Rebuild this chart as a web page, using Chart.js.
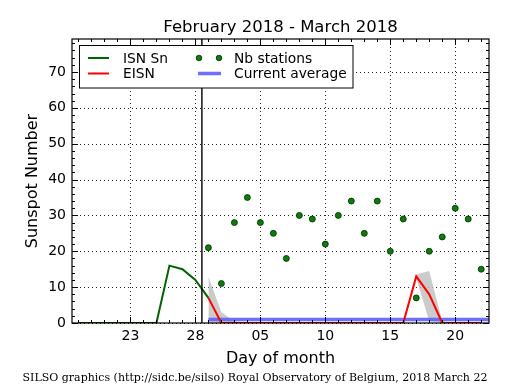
<!DOCTYPE html>
<html>
<head>
<meta charset="utf-8">
<script src="https://cdn.jsdelivr.net/npm/chart.js@4.4.1/dist/chart.umd.min.js"></script>
<style>
  html, body { margin: 0; padding: 0; background: #fff; }
  #chart { display: block; }
</style>
</head>
<body>
<canvas id="chart" width="515" height="390"></canvas>
<script>
// day index: Feb d -> d, Mar d -> 28 + d
const dayTicks = [23, 28, 33, 38, 43, 48];
const dayLabels = ['23', '28', '05', '10', '15', '20'];
const yTicks = [0, 10, 20, 30, 40, 50, 60, 70];

const isnDays = [19, 20, 21, 22, 23, 24, 25, 26, 27, 28, 29];
const isnValues = [0, 0, 0, 0, 0, 0, 0, 16, 15, 12, 7];

// March 1 .. March 22
const marDays = [29, 30, 31, 32, 33, 34, 35, 36, 37, 38, 39, 40, 41, 42, 43, 44, 45, 46, 47, 48, 49, 50];
const eisnValues = [7, 0, 0, 0, 0, 0, 0, 0, 0, 0, 0, 0, 0, 0, 0, 0, 13, 8, 0, 0, 0, 0];
const eisnUpper = [13, 3, 0.5, 0, 0, 0, 0, 0, 0, 0, 0, 0, 0, 0, 0, 0, 13.5, 14.5, 0.5, 0, 0, 0];
const eisnLower = [0, 0, 0, 0, 0, 0, 0, 0, 0, 0, 0, 0, 0, 0, 0, 0, 12.5, 0.5, 0, 0, 0, 0];
const stationValues = [21, 11, 28, 35, 28, 25, 18, 30, 29, 22, 30, 34, 25, 34, 20, 29, 7, 20, 24, 32, 29, 15];

const averageDays = [29, 51];
const averageValues = [1, 1];

const dividerDay = 28.5;
const xMin = 18.5, xMax = 50.6;
const yMin = 0, yMax = 79.2;

const toPoints = (xs, ys) => xs.map((x, i) => ({ x: x, y: ys[i] }));

const SANS = '"DejaVu Sans", sans-serif';
const SERIF = '"DejaVu Serif", serif';

const GREEN = '#006400';
const RED = '#ff0000';
const BLUE = 'rgba(95,95,255,0.9)';
const DOT = '#0b7d0b';

// grid, frame, inside ticks, legend and texts
const decorations = {
    id: 'decorations',
    beforeDatasetsDraw(chart) {
        const { ctx, chartArea: a, scales: { x, y } } = chart;
        ctx.save();
        ctx.strokeStyle = 'rgba(0,0,0,0.85)';
        ctx.lineWidth = 1;
        ctx.setLineDash([1, 3]);
        dayTicks.forEach(d => {
            const px = Math.round(x.getPixelForValue(d)) + 0.5;
            ctx.beginPath(); ctx.moveTo(px, a.top); ctx.lineTo(px, a.bottom); ctx.stroke();
        });
        yTicks.forEach(v => {
            const py = Math.round(y.getPixelForValue(v)) + 0.5;
            ctx.beginPath(); ctx.moveTo(a.left, py); ctx.lineTo(a.right, py); ctx.stroke();
        });
        ctx.restore();
    },
    afterDatasetsDraw(chart) {
        const { ctx, chartArea: a, scales: { x, y } } = chart;
        ctx.save();
        ctx.strokeStyle = '#000';
        ctx.lineWidth = 1;
        ctx.setLineDash([]);
        // minor + major ticks, inside, on all four sides
        for (let d = Math.ceil(xMin); d <= xMax; d++) {
            const px = Math.round(x.getPixelForValue(d)) + 0.5;
            const len = dayTicks.includes(d) ? 6 : 3;
            ctx.beginPath();
            ctx.moveTo(px, a.bottom); ctx.lineTo(px, a.bottom - len);
            ctx.moveTo(px, a.top); ctx.lineTo(px, a.top + len);
            ctx.stroke();
        }
        for (let v = 0; v <= yMax; v += 2) {
            const py = Math.round(y.getPixelForValue(v)) + 0.5;
            const len = v % 10 === 0 ? 6 : 3;
            ctx.beginPath();
            ctx.moveTo(a.left, py); ctx.lineTo(a.left + len, py);
            ctx.moveTo(a.right, py); ctx.lineTo(a.right - len, py);
            ctx.stroke();
        }
        ctx.lineWidth = 1.2;
        ctx.strokeRect(a.left, a.top, a.right - a.left, a.bottom - a.top);

        // legend
        const lx = 79.5, ly = 45.5, lw = 273.5, lh = 42.5;
        ctx.fillStyle = '#fff';
        ctx.fillRect(lx, ly, lw, lh);
        ctx.lineWidth = 1;
        ctx.strokeRect(lx, ly, lw, lh);
        ctx.font = '13.8px ' + SANS;
        ctx.textBaseline = 'middle';
        ctx.textAlign = 'left';
        const r1 = 58, r2 = 73.5;
        ctx.lineWidth = 2;
        ctx.strokeStyle = GREEN;
        ctx.beginPath(); ctx.moveTo(88, r1); ctx.lineTo(109, r1); ctx.stroke();
        ctx.strokeStyle = RED;
        ctx.beginPath(); ctx.moveTo(88, r2); ctx.lineTo(109, r2); ctx.stroke();
        ctx.strokeStyle = BLUE;
        ctx.lineWidth = 3.5;
        ctx.beginPath(); ctx.moveTo(198, r2); ctx.lineTo(221, r2); ctx.stroke();
        ctx.lineWidth = 0.8;
        ctx.strokeStyle = '#002a00';
        ctx.fillStyle = DOT;
        [199, 219].forEach(cx => {
            ctx.beginPath(); ctx.arc(cx, r1, 2.8, 0, Math.PI * 2); ctx.fill(); ctx.stroke();
        });
        ctx.fillStyle = '#000';
        ctx.fillText('ISN Sn', 123, r1 + 1);
        ctx.fillText('EISN', 123, r2 + 1);
        ctx.fillText('Nb stations', 234, r1 + 1);
        ctx.fillText('Current average', 234, r2 + 1);
        ctx.restore();
    },
    afterDraw(chart) {
        const { ctx, chartArea: a } = chart;
        const cx = (a.left + a.right) / 2;
        ctx.save();
        ctx.fillStyle = '#000';
        ctx.textAlign = 'center';
        ctx.textBaseline = 'alphabetic';
        ctx.font = '16.5px ' + SANS;
        ctx.fillText('February 2018 - March 2018', cx, 32);
        ctx.font = '16px ' + SANS;
        ctx.fillText('Day of month', cx, 363);
        ctx.save();
        ctx.translate(37, (a.top + a.bottom) / 2);
        ctx.rotate(-Math.PI / 2);
        ctx.fillText('Sunspot Number', 0, 0);
        ctx.restore();
        ctx.font = '11px ' + SERIF;
        ctx.fillText('SILSO graphics (http://sidc.be/silso) Royal Observatory of Belgium, 2018 March 22', 255, 381);
        ctx.restore();
    }
};

new Chart(document.getElementById('chart').getContext('2d'), {
    type: 'line',
    data: {
        datasets: [
            {   // band lower edge
                data: toPoints(marDays, eisnLower),
                borderWidth: 0, pointRadius: 0, fill: false, order: 6
            },
            {   // band upper edge
                data: toPoints(marDays, eisnUpper),
                borderWidth: 0, pointRadius: 0,
                fill: '-1', backgroundColor: 'rgba(190,190,190,0.8)', order: 5
            },
            {
                label: 'Current average',
                data: toPoints(averageDays, averageValues),
                borderColor: BLUE, borderWidth: 3.5, pointRadius: 0, order: 4
            },
            {
                label: 'ISN Sn',
                data: toPoints(isnDays, isnValues),
                borderColor: GREEN, borderWidth: 2, pointRadius: 0, order: 3
            },
            {
                label: 'EISN',
                data: toPoints(marDays, eisnValues),
                borderColor: RED, borderWidth: 2, pointRadius: 0, order: 2
            },
            {
                data: [{ x: dividerDay, y: yMin }, { x: dividerDay, y: yMax }],
                borderColor: '#000', borderWidth: 1.4, pointRadius: 0, order: 1
            },
            {
                label: 'Nb stations',
                data: toPoints(marDays, stationValues),
                showLine: false,
                pointRadius: 3, pointBorderWidth: 0.8,
                pointBackgroundColor: DOT, pointBorderColor: '#002a00', order: 0
            }
        ]
    },
    options: {
        responsive: false,
        animation: false,
        layout: { padding: { left: 0, right: 26, top: 39, bottom: 0 } },
        elements: { line: { tension: 0 } },
        plugins: {
            legend: { display: false },
            title: { display: false },
            tooltip: { enabled: false }
        },
        scales: {
            x: {
                type: 'linear',
                min: xMin, max: xMax,
                grid: { display: false, drawTicks: false },
                border: { display: false },
                afterBuildTicks: (scale) => { scale.ticks = dayTicks.map(v => ({ value: v })); },
                afterFit: (scale) => { scale.height = 67; },
                ticks: {
                    padding: 5, color: '#000', maxRotation: 0, autoSkip: false,
                    font: { family: SANS, size: 14 },
                    callback: (v) => dayLabels[dayTicks.indexOf(v)]
                }
            },
            y: {
                min: yMin, max: yMax,
                grid: { display: false, drawTicks: false },
                border: { display: false },
                afterBuildTicks: (scale) => { scale.ticks = yTicks.map(v => ({ value: v })); },
                afterFit: (scale) => { scale.width = 72; },
                ticks: {
                    padding: 6, color: '#000',
                    font: { family: SANS, size: 14 },
                    callback: (v) => String(v)
                }
            }
        }
    },
    plugins: [decorations]
});
</script>
</body>
</html>
